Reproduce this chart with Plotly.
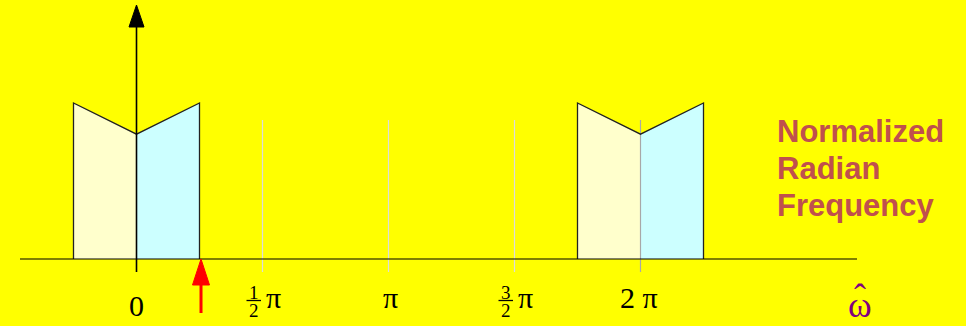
import plotly.graph_objects as go

# 주파수 축 (단위: π)
band_centers = [0.0, 2.0]          # 스펙트럼 복사본 중심 (0, 2π)
band_half = 0.25                   # 대역폭 절반 (π/4)
edge_height = 1.0                  # 대역 가장자리 높이
center_height = 0.8                # 중심 높이
tick_vals = [0.0, 0.5, 1.0, 1.5, 2.0]
tick_num = [None, "1", None, "3", None]
tick_den = [None, "2", None, "2", None]
tick_text = ["0", "π", "π", "π", "2 π"]
marker_freq = 0.256                # 빨간 화살표 위치

W, H = 966, 326
PX_X = 252.0    # 1π 당 픽셀
PX_Y = 156.0    # 높이 1 당 픽셀
X0_PX, Y0_PX = 136.5, 259.0


def xpx(p):
    return (p - X0_PX) / PX_X


def ypx(p):
    return (Y0_PX - p) / PX_Y


def dx(p):
    return p / PX_X


fig = go.Figure()

# 스펙트럼 (왼쪽 절반 연노랑, 오른쪽 절반 연하늘)
for c in band_centers:
    fig.add_trace(go.Scatter(
        x=[c - band_half, c - band_half, c, c, c - band_half],
        y=[0, edge_height, center_height, 0, 0],
        fill="toself", fillcolor="#FFFFCC", mode="lines",
        line=dict(width=0), hoverinfo="skip"))
    fig.add_trace(go.Scatter(
        x=[c, c, c + band_half, c + band_half, c],
        y=[0, center_height, edge_height, 0, 0],
        fill="toself", fillcolor="#CCFFFF", mode="lines",
        line=dict(width=0), hoverinfo="skip"))

# 눈금 세로선
for t in tick_vals[1:]:
    fig.add_trace(go.Scatter(
        x=[t, t], y=[ypx(120), ypx(272)], mode="lines",
        line=dict(color="#A8A8A8" if t == 2.0 else "#DCDCDC", width=1.2),
        hoverinfo="skip"))

# 스펙트럼 외곽선
for c in band_centers:
    fig.add_trace(go.Scatter(
        x=[c - band_half, c - band_half, c, c + band_half, c + band_half],
        y=[0, edge_height, center_height, edge_height, 0],
        mode="lines", line=dict(color="#222222", width=1.3),
        hoverinfo="skip"))

# 가로축
fig.add_trace(go.Scatter(x=[xpx(20), xpx(857)], y=[0, 0], mode="lines",
                         line=dict(color="black", width=1.2), hoverinfo="skip"))
# 세로축 + 화살촉
fig.add_trace(go.Scatter(x=[0, 0], y=[ypx(272), ypx(27)], mode="lines",
                         line=dict(color="black", width=1.6), hoverinfo="skip"))
fig.add_trace(go.Scatter(
    x=[-dx(7.5), 0, dx(7.5), -dx(7.5)], y=[ypx(27), ypx(5), ypx(27), ypx(27)],
    fill="toself", fillcolor="black", mode="lines",
    line=dict(color="black", width=1), hoverinfo="skip"))

# 빨간 화살표
fig.add_trace(go.Scatter(x=[marker_freq, marker_freq], y=[ypx(313), ypx(284)],
                         mode="lines", line=dict(color="#FF0000", width=3),
                         hoverinfo="skip"))
fig.add_trace(go.Scatter(
    x=[marker_freq - dx(8.5), marker_freq, marker_freq + dx(8.5), marker_freq - dx(8.5)],
    y=[ypx(285), ypx(259), ypx(285), ypx(285)],
    fill="toself", fillcolor="#FF0000", mode="lines",
    line=dict(color="#FF0000", width=1), hoverinfo="skip"))

serif = "Liberation Serif, Times New Roman, serif"

# 눈금 라벨
for t, num, den, txt in zip(tick_vals, tick_num, tick_den, tick_text):
    if num is None:
        ypos = 305 if t == 0 else 297
        xoff = -2 if t == 2.0 else (1.5 if t == 1.0 else 0)
        fig.add_annotation(x=t + dx(xoff), y=ypx(ypos), text=txt, showarrow=False,
                           font=dict(family=serif, size=30, color="black"))
    else:
        fig.add_annotation(x=t - dx(9), y=ypx(292), text=num, showarrow=False,
                           font=dict(family=serif, size=19, color="black"))
        fig.add_annotation(x=t - dx(9), y=ypx(310), text=den, showarrow=False,
                           font=dict(family=serif, size=19, color="black"))
        fig.add_shape(type="line", x0=t - dx(16), x1=t - dx(1.5),
                      y0=ypx(300.5), y1=ypx(300.5),
                      line=dict(color="black", width=1.3))
        fig.add_annotation(x=t + dx(10.5), y=ypx(297), text=txt, showarrow=False,
                           font=dict(family=serif, size=30, color="black"))

# 축 이름 (ω 위에 ^)
fig.add_annotation(x=xpx(859.5), y=ypx(305), text="ω", showarrow=False,
                   font=dict(family=serif, size=36, color="#800080"))
fig.add_annotation(x=xpx(859.5), y=ypx(297), text="ˆ", showarrow=False,
                   font=dict(family=serif, size=36, color="#800080"))

# 설명 텍스트
for i, line in enumerate(["Normalized", "Radian", "Frequency"]):
    fig.add_annotation(x=xpx(775), y=ypx(131 + 37 * i), text="<b>%s</b>" % line,
                       showarrow=False, xanchor="left",
                       font=dict(family="Liberation Sans, Arial, sans-serif",
                                 size=31, color="#C0504D"))

fig.update_layout(
    width=W, height=H,
    margin=dict(l=0, r=0, t=0, b=0),
    paper_bgcolor="#FFFF00", plot_bgcolor="#FFFF00",
    showlegend=False,
    xaxis=dict(range=[xpx(0), xpx(W)], visible=False, fixedrange=True),
    yaxis=dict(range=[ypx(H), ypx(0)], visible=False, fixedrange=True),
)

fig.write_html("out.html", config={"displayModeBar": False},
               post_script="document.body.style.margin='0';")
